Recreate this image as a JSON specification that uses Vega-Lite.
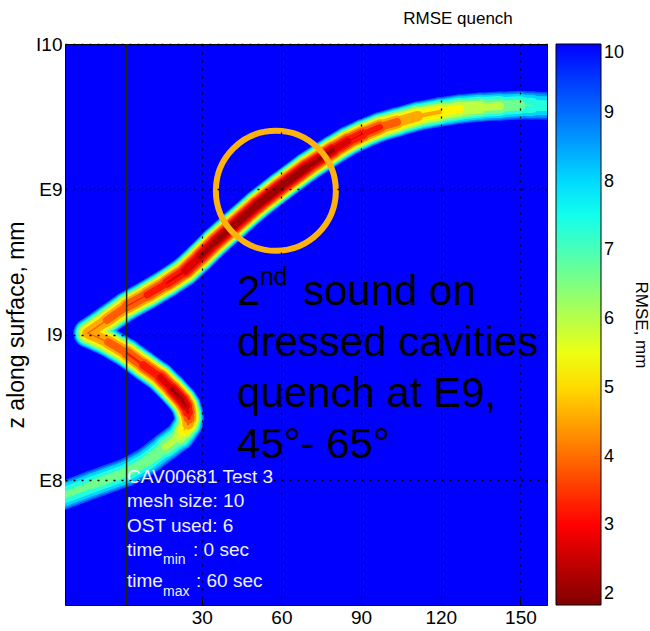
{
  "$schema": "https://vega.github.io/schema/vega-lite/v6.json",
  "width": 482,
  "height": 561,
  "autosize": {"type": "none"},
  "padding": {"left": 65, "top": 44, "right": 103, "bottom": 26},
  "background": "white",
  "config": {
    "font": "Liberation Sans",
    "view": {"fill": "#0000FF", "stroke": "#000000", "strokeWidth": 1}
  },
  "title": {"text": "RMSE quench", "fontSize": 17, "fontWeight": "normal", "color": "#000000", "anchor": "middle", "dx": 152, "offset": 7},
  "datasets": {
    "seg": [
      {"ang": -27.0, "z": -0.14, "ang2": -11.0, "z2": -0.03, "rmse": 6.8},
      {"ang": -11.0, "z": -0.03, "ang2": 1.8, "z2": 0.054, "rmse": 6.75},
      {"ang": 1.8, "z": 0.054, "ang2": 9.4, "z2": 0.13, "rmse": 6.7},
      {"ang": 9.4, "z": 0.13, "ang2": 16.2, "z2": 0.226, "rmse": 6.55},
      {"ang": 16.2, "z": 0.226, "ang2": 21.8, "z2": 0.302, "rmse": 6.1},
      {"ang": 21.8, "z": 0.302, "ang2": 23.3, "z2": 0.343, "rmse": 5.5},
      {"ang": 23.3, "z": 0.343, "ang2": 24.8, "z2": 0.385, "rmse": 4.85},
      {"ang": 24.8, "z": 0.385, "ang2": 25.19, "z2": 0.426, "rmse": 4.1},
      {"ang": 25.19, "z": 0.426, "ang2": 24.8, "z2": 0.467, "rmse": 3.35},
      {"ang": 24.8, "z": 0.467, "ang2": 24.06, "z2": 0.509, "rmse": 2.75},
      {"ang": 24.06, "z": 0.509, "ang2": 22.6, "z2": 0.55, "rmse": 2.3},
      {"ang": 22.6, "z": 0.55, "ang2": 18.8, "z2": 0.626, "rmse": 2.25},
      {"ang": 18.8, "z": 0.626, "ang2": 14.3, "z2": 0.708, "rmse": 2.65},
      {"ang": 14.3, "z": 0.708, "ang2": 7.9, "z2": 0.791, "rmse": 3.05},
      {"ang": 7.9, "z": 0.791, "ang2": 1.8, "z2": 0.873, "rmse": 3.4},
      {"ang": 1.8, "z": 0.873, "ang2": -5.3, "z2": 0.949, "rmse": 3.8},
      {"ang": -5.3, "z": 0.949, "ang2": -12.8, "z2": 1.011, "rmse": 4.15},
      {"ang": -12.8, "z": 1.011, "ang2": -5.7, "z2": 1.1, "rmse": 4.15},
      {"ang": -5.7, "z": 1.1, "ang2": 1.8, "z2": 1.197, "rmse": 3.8},
      {"ang": 1.8, "z": 1.197, "ang2": 9.4, "z2": 1.273, "rmse": 3.45},
      {"ang": 9.4, "z": 1.273, "ang2": 16.9, "z2": 1.355, "rmse": 3.15},
      {"ang": 16.9, "z": 1.355, "ang2": 23.7, "z2": 1.438, "rmse": 2.8},
      {"ang": 23.7, "z": 1.438, "ang2": 29.3, "z2": 1.534, "rmse": 2.45},
      {"ang": 29.3, "z": 1.534, "ang2": 35.0, "z2": 1.637, "rmse": 2.2},
      {"ang": 35.0, "z": 1.637, "ang2": 41.8, "z2": 1.747, "rmse": 2.05},
      {"ang": 41.8, "z": 1.747, "ang2": 50.8, "z2": 1.892, "rmse": 1.98},
      {"ang": 50.8, "z": 1.892, "ang2": 59.5, "z2": 2.016, "rmse": 1.92},
      {"ang": 59.5, "z": 2.016, "ang2": 69.6, "z2": 2.153, "rmse": 1.95},
      {"ang": 69.6, "z": 2.153, "ang2": 79.4, "z2": 2.27, "rmse": 2.2},
      {"ang": 79.4, "z": 2.27, "ang2": 85.05, "z2": 2.332, "rmse": 2.55},
      {"ang": 85.05, "z": 2.332, "ang2": 90.7, "z2": 2.381, "rmse": 2.85},
      {"ang": 90.7, "z": 2.381, "ang2": 97.1, "z2": 2.429, "rmse": 3.25},
      {"ang": 97.1, "z": 2.429, "ang2": 103.5, "z2": 2.463, "rmse": 3.75},
      {"ang": 103.5, "z": 2.463, "ang2": 111.4, "z2": 2.504, "rmse": 4.25},
      {"ang": 111.4, "z": 2.504, "ang2": 119.7, "z2": 2.532, "rmse": 4.75},
      {"ang": 119.7, "z": 2.532, "ang2": 127.2, "z2": 2.553, "rmse": 5.2},
      {"ang": 127.2, "z": 2.553, "ang2": 134.8, "z2": 2.566, "rmse": 5.6},
      {"ang": 134.8, "z": 2.566, "ang2": 142.3, "z2": 2.573, "rmse": 6.05},
      {"ang": 142.3, "z": 2.573, "ang2": 149.8, "z2": 2.58, "rmse": 6.55},
      {"ang": 149.8, "z": 2.58, "ang2": 154.3, "z2": 2.577, "rmse": 6.95},
      {"ang": 154.3, "z": 2.577, "ang2": 165.0, "z2": 2.573, "rmse": 7.35}
    ],
    "axisline": [{"ang": 1.7, "z": -0.86, "z2": 3.0}],
    "circle": [{"ang": 57.9, "z": 1.99}],
    "big": [
      {"ang": 43.3, "z": 1.204, "label": "2"},
      {"ang": 68.1, "z": 1.204, "label": "sound on"},
      {"ang": 43.3, "z": 0.853, "label": "dressed cavities"},
      {"ang": 43.3, "z": 0.502, "label": "quench at E9,"},
      {"ang": 43.3, "z": 0.151, "label": "45°- 65°"}
    ],
    "sup": [{"ang": 51.8, "z": 1.345, "label": "nd"}],
    "info": [
      {"ang": 1.84, "z": 0.02, "label": "CAV00681 Test 3"},
      {"ang": 1.84, "z": -0.145, "label": "mesh size: 10"},
      {"ang": 1.84, "z": -0.315, "label": "OST used: 6"},
      {"ang": 1.84, "z": -0.482, "label": "time"},
      {"ang": 26.69, "z": -0.482, "label": ": 0 sec"},
      {"ang": 1.84, "z": -0.695, "label": "time"},
      {"ang": 27.82, "z": -0.695, "label": ": 60 sec"}
    ],
    "sub": [
      {"ang": 15.4, "z": -0.548, "label": "min"},
      {"ang": 15.4, "z": -0.772, "label": "max"}
    ]
  },
  "encoding": {
    "x": {
      "field": "ang", "type": "quantitative",
      "scale": {"domain": [-21.5, 160], "nice": false, "zero": false},
      "axis": {"title": null, "values": [30, 60, 90, 120, 150], "labelFontSize": 19, "labelColor": "#000000", "domain": false, "tickColor": "#000000", "tickSize": -6, "labelPadding": 9, "grid": true, "gridColor": "#000000", "gridDash": [2, 6], "gridWidth": 1.3, "gridOpacity": 1, "zindex": 1}
    },
    "y": {
      "field": "z", "type": "quantitative",
      "scale": {"domain": [-0.86, 3.0], "nice": false, "zero": false},
      "axis": {"title": "z along surface, mm", "titleFontSize": 23, "titleFontWeight": "normal", "titleColor": "#000000", "titlePadding": 7, "values": [0, 1, 2, 3], "labelExpr": "datum.value == 0 ? 'E8' : datum.value == 1 ? 'I9' : datum.value == 2 ? 'E9' : 'I10'", "labelFontSize": 19, "labelColor": "#000000", "labelPadding": 3, "ticks": false, "domain": false, "grid": true, "gridColor": "#000000", "gridDash": [2, 6], "gridWidth": 1.3, "gridOpacity": 1, "zindex": 1}
    }
  },
  "layer": [
    {
      "data": {"name": "seg"},
      "encoding": {"x2": {"field": "ang2"}, "y2": {"field": "z2"}},
      "layer": [
        {"mark": {"type": "rule", "strokeCap": "round", "clip": true},
         "encoding": {"color": {"datum": 9.25, "type": "quantitative",
            "scale": {"domain": [1.84, 3.0, 5.34, 7.67, 10], "range": ["#800000", "#FF0000", "#FFFF00", "#00FFFF", "#0000FF"], "interpolate": "rgb", "zero": false, "nice": false},
            "legend": {"title": "RMSE, mm", "orient": "right", "direction": "vertical", "offset": 9, "padding": 0, "gradientLength": 561, "gradientThickness": 45, "gradientStrokeColor": "#000000", "gradientStrokeWidth": 1, "values": [2, 3, 4, 5, 6, 7, 8, 9, 10], "labelFontSize": 18, "labelColor": "#000000", "labelOffset": 3, "titleOrient": "right", "titleAngle": 270, "titleAnchor": "middle", "titleFontSize": 17, "titleFontWeight": "normal", "titleColor": "#000000", "titlePadding": 8}},
           "size": {"field": "rmse", "type": "quantitative", "legend": null, "scale": {"domain": [1.8, 6.5, 8.0, 8.8, 9.25, 9.5], "range": [30.1, 28.8, 26.9, 23.7, 17.9, 0], "clamp": true, "zero": false, "nice": false}}}},
        {"mark": {"type": "rule", "strokeCap": "round", "clip": true},
         "encoding": {"color": {"datum": 8.7, "type": "quantitative"},
           "size": {"field": "rmse", "type": "quantitative", "legend": null, "scale": {"domain": [1.8, 6.0, 7.5, 8.3, 8.75, 9.0], "range": [29.1, 26.9, 24.0, 19.9, 13.9, 0], "clamp": true, "zero": false, "nice": false}}}},
        {"mark": {"type": "rule", "strokeCap": "round", "clip": true},
         "encoding": {"color": {"datum": 8.05, "type": "quantitative"},
           "size": {"field": "rmse", "type": "quantitative", "legend": null, "scale": {"domain": [1.8, 5.4, 6.9, 7.7, 8.15, 8.4], "range": [27.8, 25.1, 21.6, 17.1, 11.4, 0], "clamp": true, "zero": false, "nice": false}}}},
        {"mark": {"type": "rule", "strokeCap": "round", "clip": true},
         "encoding": {"color": {"datum": 7.35, "type": "quantitative"},
           "size": {"field": "rmse", "type": "quantitative", "legend": null, "scale": {"domain": [1.8, 4.7, 6.2, 7.0, 7.45, 7.7], "range": [26.3, 23.3, 19.6, 15.0, 9.8, 0], "clamp": true, "zero": false, "nice": false}}}},
        {"mark": {"type": "rule", "strokeCap": "round", "clip": true},
         "encoding": {"color": {"datum": 6.65, "type": "quantitative"},
           "size": {"field": "rmse", "type": "quantitative", "legend": null, "scale": {"domain": [1.8, 4.0, 5.5, 6.3, 6.75, 7.0], "range": [24.7, 22.0, 17.9, 13.5, 8.6, 0], "clamp": true, "zero": false, "nice": false}}}},
        {"mark": {"type": "rule", "strokeCap": "round", "clip": true},
         "encoding": {"color": {"datum": 5.95, "type": "quantitative"},
           "size": {"field": "rmse", "type": "quantitative", "legend": null, "scale": {"domain": [1.8, 3.3, 4.8, 5.6, 6.05, 6.3], "range": [23.0, 20.8, 16.7, 12.4, 7.8, 0], "clamp": true, "zero": false, "nice": false}}}},
        {"mark": {"type": "rule", "strokeCap": "round", "clip": true},
         "encoding": {"color": {"datum": 5.25, "type": "quantitative"},
           "size": {"field": "rmse", "type": "quantitative", "legend": null, "scale": {"domain": [1.8, 2.6, 4.1, 4.9, 5.35, 5.6], "range": [21.2, 19.8, 15.6, 11.5, 7.2, 0], "clamp": true, "zero": false, "nice": false}}}},
        {"mark": {"type": "rule", "strokeCap": "round", "clip": true},
         "encoding": {"color": {"datum": 4.55, "type": "quantitative"},
           "size": {"field": "rmse", "type": "quantitative", "legend": null, "scale": {"domain": [1.8, 3.4, 4.2, 4.65, 4.9], "range": [19.1, 14.8, 10.8, 6.7, 0], "clamp": true, "zero": false, "nice": false}}}},
        {"mark": {"type": "rule", "strokeCap": "round", "clip": true},
         "encoding": {"color": {"datum": 3.85, "type": "quantitative"},
           "size": {"field": "rmse", "type": "quantitative", "legend": null, "scale": {"domain": [1.8, 2.7, 3.5, 3.95, 4.2], "range": [16.8, 14.0, 10.2, 6.3, 0], "clamp": true, "zero": false, "nice": false}}}},
        {"mark": {"type": "rule", "strokeCap": "round", "clip": true},
         "encoding": {"color": {"datum": 3.2, "type": "quantitative"},
           "size": {"field": "rmse", "type": "quantitative", "legend": null, "scale": {"domain": [1.8, 2.0, 2.8, 3.25, 3.5], "range": [14.1, 13.5, 9.7, 6.0, 0], "clamp": true, "zero": false, "nice": false}}}},
        {"mark": {"type": "rule", "strokeCap": "round", "clip": true},
         "encoding": {"color": {"datum": 2.65, "type": "quantitative"},
           "size": {"field": "rmse", "type": "quantitative", "legend": null, "scale": {"domain": [1.8, 2.2, 2.65, 2.9], "range": [11.4, 9.3, 5.8, 0], "clamp": true, "zero": false, "nice": false}}}},
        {"mark": {"type": "rule", "strokeCap": "round", "clip": true},
         "encoding": {"color": {"datum": 2.1, "type": "quantitative"},
           "size": {"field": "rmse", "type": "quantitative", "legend": null, "scale": {"domain": [1.8, 2.15, 2.4], "range": [8.4, 5.5, 0], "clamp": true, "zero": false, "nice": false}}}}
      ],
      "resolve": {"scale": {"size": "independent"}}
    },
    {
      "data": {"name": "axisline"},
      "mark": {"type": "rule", "color": "#222211", "strokeWidth": 1.5},
      "encoding": {"y2": {"field": "z2"}}
    },
    {
      "data": {"name": "circle"},
      "mark": {"type": "point", "shape": "circle", "size": 14400, "filled": false, "stroke": "#FDB30F", "strokeWidth": 6, "opacity": 1}
    },
    {
      "data": {"name": "big"},
      "mark": {"type": "text", "fontSize": 42, "align": "left", "baseline": "alphabetic", "color": "#000000"},
      "encoding": {"text": {"field": "label"}}
    },
    {
      "data": {"name": "sup"},
      "mark": {"type": "text", "fontSize": 25, "align": "left", "baseline": "alphabetic", "color": "#000000"},
      "encoding": {"text": {"field": "label"}}
    },
    {
      "data": {"name": "info"},
      "mark": {"type": "text", "fontSize": 19, "align": "left", "baseline": "middle", "color": "#EEF0FF"},
      "encoding": {"text": {"field": "label"}}
    },
    {
      "data": {"name": "sub"},
      "mark": {"type": "text", "fontSize": 14, "align": "left", "baseline": "middle", "color": "#EEF0FF"},
      "encoding": {"text": {"field": "label"}}
    }
  ],
  "resolve": {"scale": {"size": "independent"}}
}
